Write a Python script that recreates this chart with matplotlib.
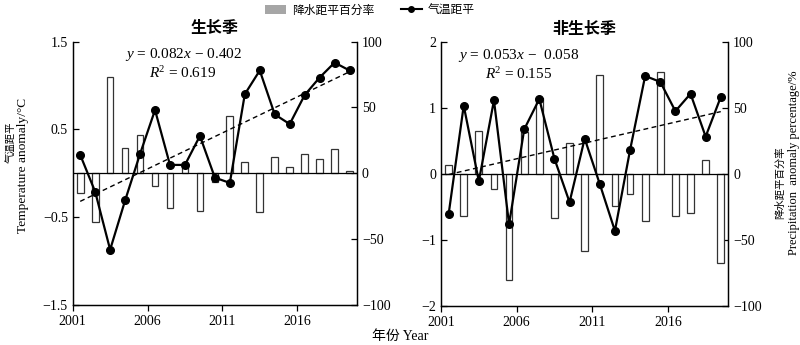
import matplotlib
matplotlib.use("Agg")
import matplotlib.pyplot as plt
from matplotlib.patches import Patch
from matplotlib.lines import Line2D
import numpy as np

years = list(range(2001, 2020))

# growing season
temp_gs = [0.21, -0.21, -0.87, -0.31, 0.22, 0.72, 0.095, 0.095, 0.425, -0.05,
           -0.11, 0.90, 1.17, 0.67, 0.56, 0.89, 1.09, 1.26, 1.17]
prec_gs = [-14.7, -36.7, 72.8, 19.0, 29.0, -9.6, -26.6, 6.8, -28.6, -6.3,
           43.5, 8.8, -29.6, 12.0, 5.0, 14.6, 11.0, 18.4, 1.5]
fit_gs = (0.082, -0.402)

# non-growing season
temp_ngs = [-0.61, 1.04, -0.106, 1.12, -0.76, 0.68, 1.14, 0.235, -0.425, 0.54,
            -0.15, -0.86, 0.364, 1.49, 1.40, 0.956, 1.22, 0.57, 1.17]
prec_ngs = [6.8, -31.9, 32.8, -11.4, -80.4, 32.0, 57.4, -33.0, 23.3, -58.4,
            75.6, -24.3, -14.7, -35.4, 77.6, -31.9, -29.8, 11.1, -67.7]
fit_ngs = (0.053, -0.058)

xtick_labels = ["2001", "2006", "2011", "2016"]

SERIF = ["Liberation Serif", "Noto Sans CJK SC"]
CJK = ["Noto Sans CJK SC", "Liberation Serif"]
plt.rcParams["font.family"] = SERIF
plt.rcParams["axes.unicode_minus"] = True
plt.rcParams["mathtext.fontset"] = "custom"
plt.rcParams["mathtext.rm"] = "Liberation Serif"
plt.rcParams["mathtext.it"] = "Liberation Serif:italic"
plt.rcParams["mathtext.bf"] = "Liberation Serif:bold"

fig = plt.figure(figsize=(8, 3.45), dpi=100)


def panel(rect, temp, prec, fit, tlim, tticks, title, eq1, eq2, eqx):
    ax = fig.add_axes(rect)
    ax2 = ax.twinx()
    x = np.array(years, dtype=float)
    ax2.bar(x, prec, width=0.45, facecolor="white", edgecolor="#333333",
            linewidth=0.9, zorder=2)
    ax2.set_ylim(-100, 100)
    ax2.set_yticks([100, 50, 0, -50, -100])
    ax2.axhline(0, color="black", lw=0.9, zorder=3)
    ax.set_zorder(ax2.get_zorder() + 1)
    ax.patch.set_visible(False)
    ax.plot(x, temp, color="black", lw=1.6, marker="o", markersize=5.5, zorder=5)
    idx = np.arange(1, len(years) + 1)
    ax.plot(x, fit[0] * idx + fit[1], color="black", lw=1.0, ls=(0, (3.5, 2.5)), zorder=4)
    ax.set_xlim(2000.5, 2019.5)
    ax.set_ylim(*tlim)
    ax.set_yticks(tticks)
    ax.set_xticks([2000.5, 2005.5, 2010.5, 2015.5])
    ax.set_xticklabels(xtick_labels)
    for a in (ax, ax2):
        a.spines["top"].set_visible(False)
        for s in a.spines.values():
            s.set_linewidth(0.9)
    ax.tick_params(axis="y", direction="in", length=4, labelsize=10, width=0.9)
    ax.tick_params(axis="x", direction="out", length=4, labelsize=10, width=0.9)
    ax2.tick_params(axis="y", direction="in", length=4, labelsize=10, width=0.9)
    ax.set_title(title, family=CJK, fontsize=11.5, fontweight="bold", pad=6)
    ax.text(eqx, 0.949, eq1, transform=ax.transAxes, ha="center", va="center",
            fontsize=11)
    ax.text(eqx, 0.880, eq2, transform=ax.transAxes, ha="center", va="center",
            fontsize=11)
    return ax, ax2


panel([0.0909, 0.1159, 0.3554, 0.7638], temp_gs, prec_gs, fit_gs,
      (-1.5, 1.5), [1.5, 0.5, -0.5, -1.5], "生长季",
      r"$y$ = 0.082$x$ − 0.402", r"$R$$^2$ = 0.619", 0.388)
panel([0.5513, 0.1130, 0.3591, 0.7643], temp_ngs, prec_ngs, fit_ngs,
      (-2, 2), [2, 1, 0, -1, -2], "非生长季",
      r"$y$ = 0.053$x$ −  0.058", r"$R$$^2$ = 0.155", 0.271)

# axis labels
fig.text(12 / 800, 1 - 142 / 345, "气温距平", rotation=90, ha="center", va="center",
         family=CJK, fontsize=7.5)
fig.text(23 / 800, 1 - 165 / 345, "Temperature anomaly/°C", rotation=90, ha="center",
         va="center", fontsize=9.6)
fig.text(780 / 800, 1 - 183 / 345, "降水距平百分率", rotation=90, ha="center", va="center",
         family=CJK, fontsize=7.5)
fig.text(793.5 / 800, 1 - 163 / 345, "Precipitation  anomaly percentage/%", rotation=90,
         ha="center", va="center", fontsize=9)
fig.text(0.5, 1 - 336 / 345, "年份 Year", ha="center", va="center", family=SERIF,
         fontsize=10)

# legend
handles = [Patch(facecolor="#a6a6a6", edgecolor="none"),
           Line2D([0], [0], color="black", lw=1.5, marker="o", markersize=4)]
fig.legend(handles, ["降水距平百分率", "气温距平"], loc="center",
           bbox_to_anchor=(370 / 800, 1 - 10 / 345), ncol=2, frameon=False,
           prop={"family": CJK, "size": 8.5}, handlelength=1.8, columnspacing=2.2,
           handletextpad=0.5)

fig.savefig("out.png", dpi=100)
